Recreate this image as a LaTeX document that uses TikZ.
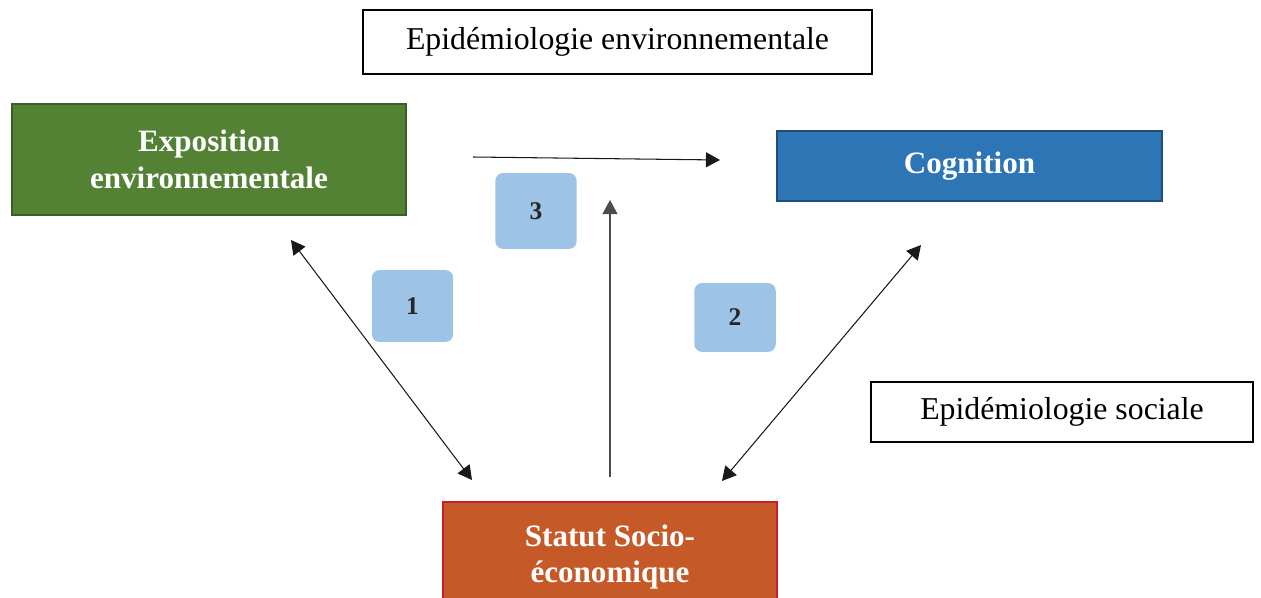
\documentclass[tikz,border=0pt]{standalone}
\usepackage{fontspec}
\setmainfont{Liberation Serif}
\usetikzlibrary{arrows.meta}

\definecolor{expogreen}{HTML}{548235}
\definecolor{expoborder}{HTML}{3B5E25}
\definecolor{cogblue}{HTML}{2E75B6}
\definecolor{cogborder}{HTML}{1F4E79}
\definecolor{sesorange}{HTML}{C55A28}
\definecolor{sesborder}{HTML}{C8202A}
\definecolor{badgeblue}{HTML}{9DC3E6}

\begin{document}
\begin{tikzpicture}[x=0.02cm,y=-0.02cm,>={Triangle[length=8pt,width=8.5pt]},line width=0.6pt]
    \tikzstyle{bigtext}=[font=\fontsize{17.7}{21}\selectfont]
    \tikzstyle{field}=[draw=black, fill=white, line width=0.8pt, font=\fontsize{18.1}{21}\selectfont, inner sep=0pt]
    \tikzstyle{factor}=[line width=1.1pt, text=white, font=\fontsize{17.7}{21}\selectfont\bfseries, align=center, inner sep=0pt]
    \tikzstyle{badge}=[fill=badgeblue, rounded corners=0.16cm, minimum width=1.63cm, inner sep=0pt, font=\fontsize{14.5}{16}\selectfont\bfseries, text=black!85]
    \tikzstyle{link}=[draw=black!90]

    \useasboundingbox (0,0) rectangle (1261,598);

    % The two research fields
    \node[field, minimum width=10.18cm, minimum height=1.28cm] (envfield) at (617.5,42) {Epidémiologie environnementale};
    \node[field, minimum width=7.64cm, minimum height=1.2cm] (socfield) at (1062,412) {Epidémiologie sociale};

    % The three factors
    \node[factor, draw=expoborder, fill=expogreen, minimum width=7.88cm, minimum height=2.22cm] (expo) at (209,159.5) {Exposition\\environnementale};
    \node[factor, draw=cogborder, fill=cogblue, minimum width=7.7cm, minimum height=1.4cm] (cog) at (969.5,166) {Cognition};
    \node[factor, draw=sesborder, fill=sesorange, minimum width=6.68cm, minimum height=2.2cm] (ses) at (610,557) {Statut Socio-\\économique};

    % Numbered badges
    \foreach \name / \x / \y / \h in {1/412.5/306/1.44cm, 2/735/317.5/1.38cm, 3/536/211/1.52cm}
        \node[badge, minimum height=\h] (B-\name) at (\x,\y) {\name};

    % Arrow end points
    \coordinate (h-a) at (473,157);
    \coordinate (h-b) at (720,160);
    \coordinate (v-a) at (610,477);
    \coordinate (v-b) at (610,200);
    \coordinate (l-a) at (291,240);
    \coordinate (l-b) at (472,480);
    \coordinate (r-a) at (921,245);
    \coordinate (r-b) at (722,481);

    % Connect them
    \draw[link,->] (h-a) -- (h-b);
    \draw[link,->,draw=black!70] (v-a) -- (v-b);
    \draw[link,<->] (l-a) -- (l-b);
    \draw[link,<->] (r-a) -- (r-b);
\end{tikzpicture}
\end{document}
